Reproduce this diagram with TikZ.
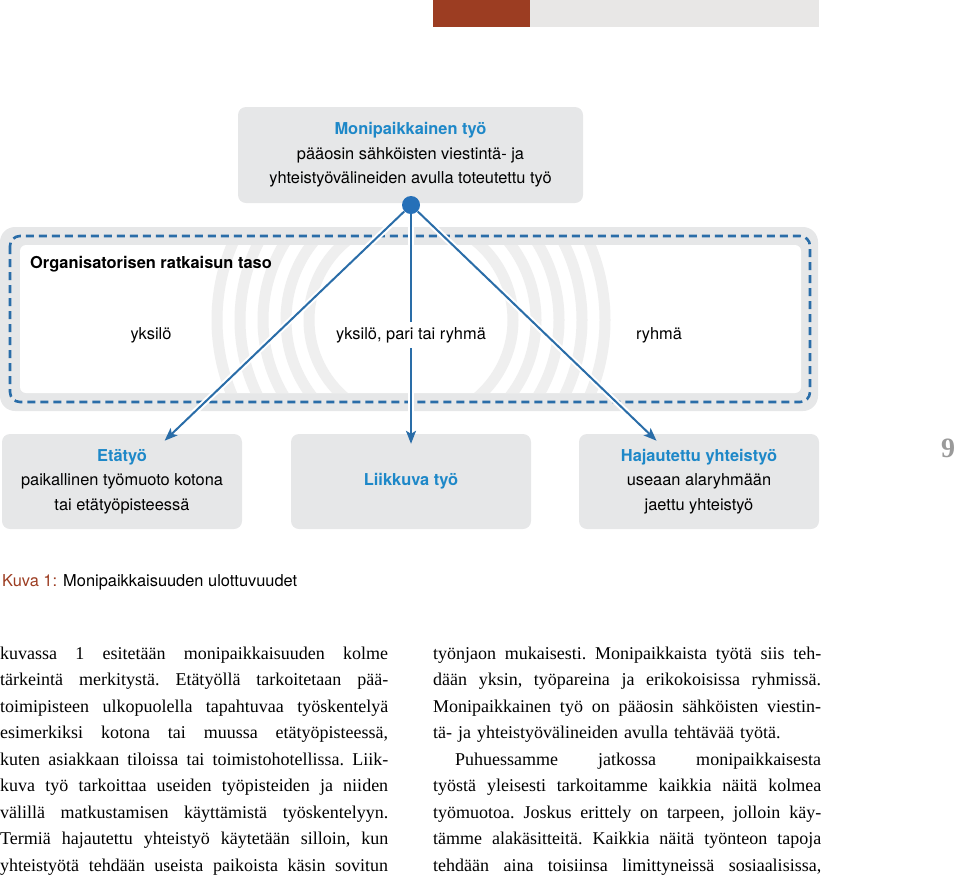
\documentclass[tikz,border=0pt]{standalone}
\usepackage{fontspec}
\setmainfont{Liberation Serif}
\setsansfont{TeX Gyre Heros}
\usetikzlibrary{arrows.meta}

\definecolor{barred}{HTML}{9C3D22}
\definecolor{bargrey}{HTML}{E8E7E6}
\definecolor{panelgrey}{HTML}{E6E7E8}
\definecolor{ringgrey}{HTML}{EFEFEF}
\definecolor{titleblue}{HTML}{1E88C8}
\definecolor{lineblue}{HTML}{2A6DA8}
\definecolor{dotblue}{HTML}{2670B8}
\definecolor{pagegrey}{HTML}{9A9A9A}

\newlength{\colw}
\setlength{\colw}{388pt}
\newcommand{\jl}[1]{{\frenchspacing\spaceskip=0pt\xspaceskip=0pt\makebox[\colw][s]{#1}}}

\tikzset{
  panel/.style={rounded corners=8pt, fill=panelgrey, align=center, inner sep=0pt,
    font=\sffamily\fontsize{16.4}{24.5}\selectfont},
  toppanel/.style={panel, minimum width=345pt, minimum height=96pt},
  formpanel/.style={panel, minimum width=240pt, minimum height=95pt},
  leveltext/.style={font=\sffamily\fontsize{16.4}{20}\selectfont, inner sep=0pt},
  hubdot/.style={circle, fill=dotblue, minimum size=18pt, inner sep=0pt},
  link/.style={lineblue, line width=2pt, shorten >=-10pt,
    -{Stealth[length=13pt,width=10pt,inset=3pt]}},
  halo/.style={white, line width=6pt, shorten >=18pt},
  bodytext/.style={font=\fontsize{18}{26.5}\selectfont\frenchspacing, text width=\colw,
    align=left, inner sep=0pt, anchor=base west},
}

\begin{document}
\begin{tikzpicture}[x=1pt, y=-1pt]
\useasboundingbox (0,0) rectangle (960,879);

\fill[barred] (433,0) rectangle (530,27);
\fill[bargrey] (530,0) rectangle (819,27);

\fill[panelgrey, rounded corners=15pt] (0,227) rectangle (818,411);
\fill[white, rounded corners=6pt] (20,245) rectangle (801,393);
\begin{scope}
  \clip[rounded corners=6pt] (20,245) rectangle (801,393);
  \foreach \r in {102,125,148,171,194}
    \draw[ringgrey, line width=11pt] (411,320) circle[radius=\r pt];
\end{scope}
\draw[lineblue, line width=2.6pt, dash pattern=on 8pt off 5pt, rounded corners=10pt]
  (10,236) rectangle (810,402);

\node[leveltext, anchor=base west, font=\sffamily\bfseries\fontsize{16.4}{20}\selectfont]
  (taso) at (30,268) {Organisatorisen ratkaisun taso};
\node[leveltext, anchor=base] (yksilo) at (151,339) {yksilö};
\node[leveltext, anchor=base] (ryhma) at (659,339) {ryhmä};

\node[toppanel] (mono) at (410.5,155) {\textbf{\color{titleblue}Monipaikkainen työ}\\
  pääosin sähköisten viestintä- ja\\ yhteistyövälineiden avulla toteutettu työ};
\node[formpanel] (eta) at (122,481.5) {\textbf{\color{titleblue}Etätyö}\\
  paikallinen työmuoto kotona\\ tai etätyöpisteessä};
\node[formpanel] (liik) at (411,481.5) {\textbf{\color{titleblue}Liikkuva työ}};
\node[formpanel] (haj) at (699,481.5) {\textbf{\color{titleblue}Hajautettu yhteistyö}\\
  useaan alaryhmään\\ jaettu yhteistyö};

\node[hubdot] (hub) at (411,205) {};
\draw[halo] (hub) -- (eta);
\draw[halo] (hub) -- (liik);
\draw[halo] (hub) -- (haj);
\draw[link] (hub) -- (eta);
\draw[link] (hub) -- (liik);
\draw[link] (hub) -- (haj);

\node[leveltext, anchor=base, fill=white, inner xsep=3pt, inner ysep=5pt]
  (sekamuoto) at (411,339) {yksilö, pari tai ryhmä};

\node[pagegrey, font=\bfseries\fontsize{28}{30}\selectfont, inner sep=0pt] (sivu) at (948,448) {9};

\node[leveltext, anchor=base west] (kuva) at (2,586)
  {{\color{barred}Kuva 1:} Monipaikkaisuuden ulottuvuudet};

\node[bodytext] (vasen) at (0,659) {%
\jl{kuvassa 1 esitetään monipaikkaisuuden kolme}\\
\jl{tärkeintä merkitystä. Etätyöllä tarkoitetaan pää-}\\
\jl{toimipisteen ulkopuolella tapahtuvaa työskentelyä}\\
\jl{esimerkiksi kotona tai muussa etätyöpisteessä,}\\
\jl{kuten asiakkaan tiloissa tai toimistohotellissa. Liik-}\\
\jl{kuva työ tarkoittaa useiden työpisteiden ja niiden}\\
\jl{välillä matkustamisen käyttämistä työskentelyyn.}\\
\jl{Termiä hajautettu yhteistyö käytetään silloin, kun}\\
\jl{yhteistyötä tehdään useista paikoista käsin sovitun}};

\node[bodytext] (oikea) at (433,659) {%
\jl{työnjaon mukaisesti. Monipaikkaista työtä siis teh-}\\
\jl{dään yksin, työpareina ja erikokoisissa ryhmissä.}\\
\jl{Monipaikkainen työ on pääosin sähköisten viestin-}\\
tä- ja yhteistyövälineiden avulla tehtävää työtä.\\
\jl{\hspace*{22pt}Puhuessamme jatkossa monipaikkaisesta}\\
\jl{työstä yleisesti tarkoitamme kaikkia näitä kolmea}\\
\jl{työmuotoa. Joskus erittely on tarpeen, jolloin käy-}\\
\jl{tämme alakäsitteitä. Kaikkia näitä työnteon tapoja}\\
\jl{tehdään aina toisiinsa limittyneissä sosiaalisissa,}};
\end{tikzpicture}
\end{document}
